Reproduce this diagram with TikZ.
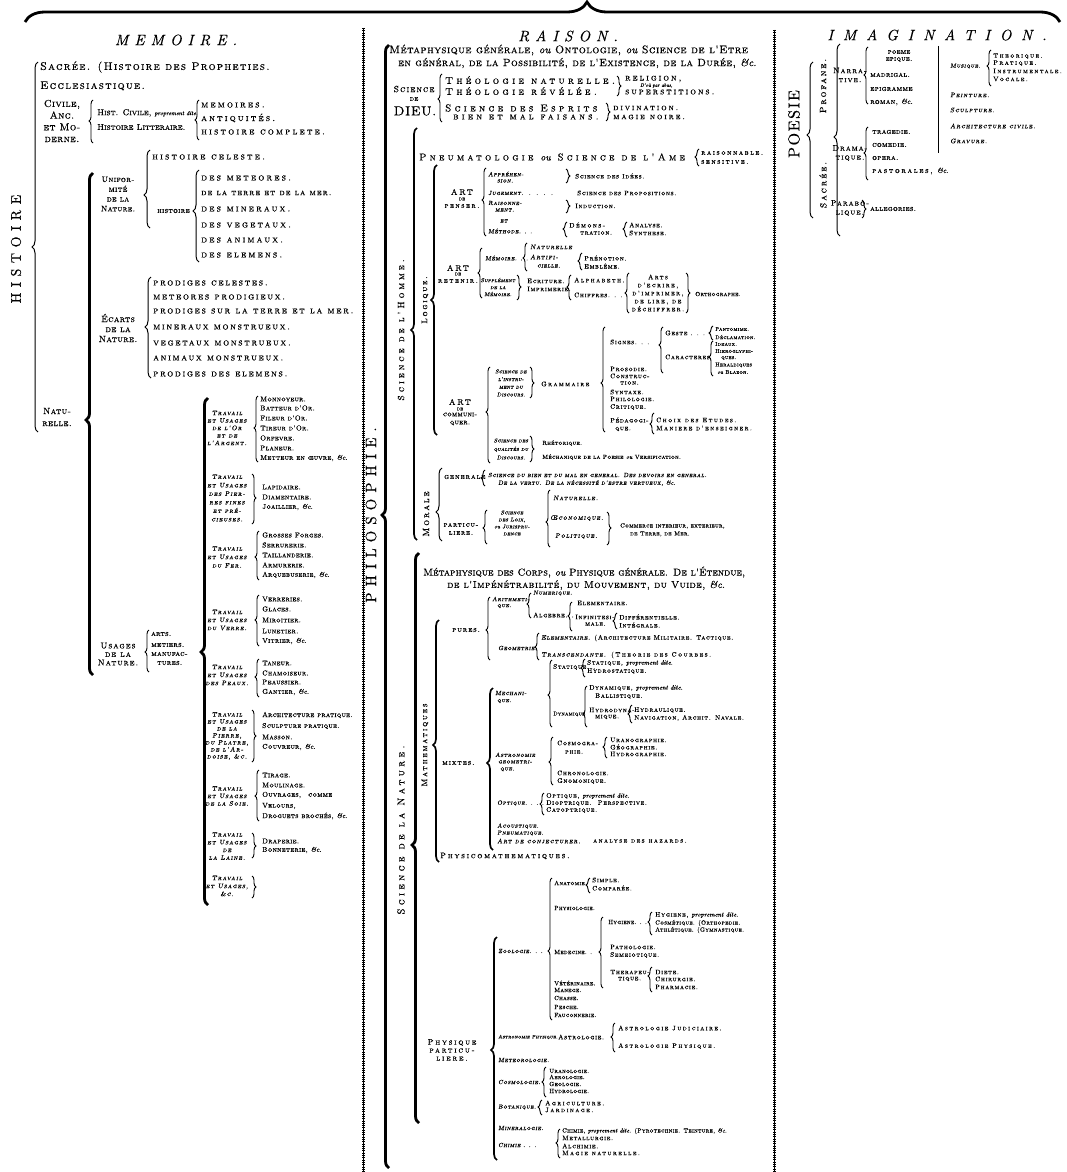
\documentclass[tikz,border=0pt]{standalone}
\usepackage{fontspec}
\usetikzlibrary{decorations.pathreplacing}
\newfontfamily\fCz{lmromancaps10-regular.otf}[FakeBold=0.5]
\newfontfamily\fCa{lmromancaps10-regular.otf}[LetterSpace=4,FakeBold=0.5]
\newfontfamily\fCf{lmromancaps10-regular.otf}[LetterSpace=10,FakeBold=0.5]
\newfontfamily\fCb{lmromancaps10-regular.otf}[LetterSpace=12,FakeBold=0.5]
\newfontfamily\fCd{lmromancaps10-regular.otf}[LetterSpace=17,FakeBold=0.5]
\newfontfamily\fCc{lmromancaps10-regular.otf}[LetterSpace=22,FakeBold=0.5]
\newfontfamily\fCe{lmromancaps10-regular.otf}[LetterSpace=33,FakeBold=0.5]
\newfontfamily\fOa{lmromancaps10-oblique.otf}[LetterSpace=4,FakeBold=0.5]
\newfontfamily\fOc{lmromancaps10-oblique.otf}[LetterSpace=8,FakeBold=0.5]
\newfontfamily\fOb{lmromancaps10-oblique.otf}[LetterSpace=14,FakeBold=0.5]
\newfontfamily\fRa{lmroman10-regular.otf}[LetterSpace=40,FakeBold=0.3]
\newfontfamily\fRb{lmroman10-regular.otf}[LetterSpace=10,FakeBold=0.3]
\newfontfamily\fIa{lmroman10-italic.otf}[LetterSpace=40,FakeBold=0.3]
\newfontfamily\fIb{lmroman10-italic.otf}[LetterSpace=65,FakeBold=0.3]
\newfontfamily\fIt{lmroman10-italic.otf}[FakeBold=0.6]
\newcommand\sz[2]{\fontsize{#1}{#2}\selectfont}
\newcommand\ou[1]{{\fIt #1}}
\newcommand\ous[1]{{\fIt\fontsize{6}{6}\selectfont #1}}
\newcommand\Ft{\fCa\sz{7}{7}}
\newcommand\Fl{\fOb\sz{6.5}{7.5}}
\newcommand\Fs{\fCf\sz{6.5}{6.5}}
\newcommand\Fss{\fCa\sz{6}{6}}
\newcommand\Fsw{\fCc\sz{6.5}{6.5}}
\newcommand\Fo{\fOc\sz{6}{6}}
\newcommand\Fow{\fOb\sz{6.5}{6.5}}
\newcommand\TX[5]{\node[anchor=west,inner sep=0pt,font={#2}] (#1) at (#3,#4) {#5};}
\newcommand\MX[5]{\node[anchor=center,inner sep=0pt,align=center,font={#2}] (#1) at (#3,#4) {#5};}
\newcommand\RX[5]{\node[rotate=90,inner sep=0pt,font={#2}] (#1) at (#3,#4) {#5};}
\newcommand\brL[5][]{\pgfmathsetmacro\asp{(#4-(#5))/(#4-(#3))}%
  \draw[brc,decoration={brace,amplitude=4pt,aspect=\asp},#1] (#2,#4) -- (#2,#3);}
\newcommand\brR[5][]{\pgfmathsetmacro\asp{(#5-(#3))/(#4-(#3))}%
  \draw[brc,decoration={brace,amplitude=4pt,aspect=\asp},#1] (#2,#3) -- (#2,#4);}
\begin{document}
\begin{tikzpicture}[x=1pt,y=-1pt,
  brc/.style={decorate,line width=0.9pt},
  thk/.style={line width=2.8pt,decoration={amplitude=7pt}},
  mdw/.style={line width=1.7pt,decoration={amplitude=6pt}},
  thn/.style={line width=1pt,decoration={amplitude=6pt}}]
\fill[white] (0,0) rectangle (1066,1172);
\useasboundingbox (0,0) rectangle (1066,1172);
% top brace
\draw[decorate,decoration={brace,amplitude=20pt,aspect=0.543},line width=2.8pt] (25,22) -- (1060,22);
% separators
\foreach \xx/\yy in {363/28,774/30}{
  \draw[line width=0.5pt] (\xx,\yy) -- (\xx,1172);
  \draw[line width=3pt,dash pattern=on 0.6pt off 1.7pt] (\xx,\yy) -- (\xx,1172);}
%================ MEMOIRE
\node[font=\fIa\sz{15}{15}] (tmem) at (176,40) {MEMOIRE.};
\RX{hist}{\fRa\sz{14}{14}}{16}{249}{HISTOIRE}
\brL[thn]{38}{62}{432}{247}
\TX{sacr}{\fCb\sz{11}{11}}{40}{67}{Sacrée. (Histoire des Propheties.}
\TX{eccl}{\fCb\sz{11}{11}}{40}{86}{Ecclesiastique.}
\MX{civ}{\fCa\sz{10}{11.7}}{62}{121}{Civile,\\Anc.\\et Mo-\\derne.}
\brL{93}{100}{143}{121}
\TX{hciv}{\fCz\sz{8.5}{8.5}}{97}{113}{Hist. Civile, \ous{proprement dite.}}
\TX{hlit}{\fCz\sz{8.5}{8.5}}{97}{127}{Histoire Litteraire.}
\brL{199}{100}{140}{120}
\TX{mems}{\fCc\sz{9.5}{9.5}}{201}{105}{memoires.}
\TX{anti}{\fCc\sz{9.5}{9.5}}{201}{118}{antiquités.}
\TX{hcom}{\fCc\sz{9.5}{9.5}}{201}{132}{histoire complete.}
\brL[thk]{93}{173}{675}{420}
\MX{natu}{\fCa\sz{9}{12}}{57}{417}{Natu-\\relle.}
\MX{unif}{\fCa\sz{8}{9.8}}{118}{194}{Unifor-\\mité\\de la\\Nature.}
\brL[thn]{150}{150}{228}{195}
\TX{hcel}{\fCc\sz{9.5}{9.5}}{152}{157}{histoire celeste.}
\TX{hnat}{\fCa\sz{7.5}{7.5}}{157}{211}{histoire}
\brL[thn]{199}{170}{262}{211}
\TX{dmet}{\fCc\sz{9.5}{9.5}}{201}{178}{des meteores.}
\TX{dter}{\fCb\sz{8.5}{8.5}}{201}{193}{de la terre et de la mer.}
\TX{dmin}{\fCc\sz{9.5}{9.5}}{201}{209}{des mineraux.}
\TX{dveg}{\fCc\sz{9.5}{9.5}}{201}{225}{des vegetaux.}
\TX{dani}{\fCc\sz{9.5}{9.5}}{201}{240}{des animaux.}
\TX{dele}{\fCc\sz{9.5}{9.5}}{201}{255}{des elemens.}
\MX{ecar}{\fCa\sz{9}{10}}{118}{328}{Écarts\\de la\\Nature.}
\brL[thn]{151}{277}{378}{327}
\TX{pcel}{\fCd\sz{9.5}{9.5}}{153}{283}{prodiges celestes.}
\TX{mpro}{\fCd\sz{9.5}{9.5}}{153}{297}{meteores prodigieux.}
\TX{pter}{\fCd\sz{9.5}{9.5}}{153}{311}{prodiges sur la terre et la mer.}
\TX{mmon}{\fCd\sz{9.5}{9.5}}{153}{327}{mineraux monstrueux.}
\TX{vmon}{\fCd\sz{9.5}{9.5}}{153}{343}{vegetaux monstrueux.}
\TX{amon}{\fCd\sz{9.5}{9.5}}{153}{358}{animaux monstrueux.}
\TX{pele}{\fCd\sz{9.5}{9.5}}{153}{374}{prodiges des elemens.}
\MX{usag}{\fCb\sz{8.5}{8.5}}{118}{654}{Usages\\de la\\Nature.}
\brL{149}{630}{672}{652}
\TX{arts}{\fCa\sz{7.5}{7.5}}{151}{634}{arts.}
\TX{meti}{\fCa\sz{7.5}{7.5}}{151}{645}{metiers.}
\TX{manu}{\fCa\sz{7.5}{7.5}}{151}{654}{manufac-}
\TX{manv}{\fCa\sz{7.5}{7.5}}{157}{663}{tures.}
\brL[thk]{208}{398}{905}{652}
% groups of Travail
\MX{gA}{\Fl}{227}{428}{Travail\\et Usages\\de l'Or\\et de\\l'Argent.}
\brL{258}{396}{462}{428}
\TX{gA1}{\Ft}{260}{399}{Monnoyeur.}
\TX{gA2}{\Ft}{260}{408}{Batteur d'Or.}
\TX{gA3}{\Ft}{260}{418}{Fileur d'Or.}
\TX{gA4}{\Ft}{260}{428}{Tireur d'Or.}
\TX{gA5}{\Ft}{260}{438}{Orfevre.}
\TX{gA6}{\Ft}{260}{448}{Planeur.}
\TX{gA7}{\Ft}{260}{458}{Metteur en œuvre, \ou{\&c.}}
\MX{gB}{\fOb\sz{6.5}{8.5}}{227}{498}{Travail\\et Usages\\des Pier-\\res fines\\et pré-\\cieuses.}
\brR{252}{474}{524}{498}
\TX{gB1}{\Ft}{262}{487}{Lapidaire.}
\TX{gB2}{\Ft}{262}{497}{Diamentaire.}
\TX{gB3}{\Ft}{262}{507}{Joaillier, \ou{\&c.}}
\MX{gC}{\fOb\sz{6.5}{8.5}}{227}{557}{Travail\\et Usages\\du Fer.}
\brL{259}{531}{580}{557}
\TX{gC1}{\Ft}{262}{535}{Grosses Forges.}
\TX{gC2}{\Ft}{262}{545}{Serrurerie.}
\TX{gC3}{\Ft}{262}{555}{Taillanderie.}
\TX{gC4}{\Ft}{262}{565}{Armurerie.}
\TX{gC5}{\Ft}{262}{575}{Arquebuserie, \ou{\&c.}}
\MX{gD}{\fOb\sz{6.5}{8}}{227}{620}{Travail\\et Usages\\du Verre.}
\brL{259}{595}{646}{620}
\TX{gD1}{\Ft}{262}{599}{Verreries.}
\TX{gD2}{\Ft}{262}{609}{Glaces.}
\TX{gD3}{\Ft}{262}{620}{Miroitier.}
\TX{gD4}{\Ft}{262}{631}{Lunetier.}
\TX{gD5}{\Ft}{262}{641}{Vitrier, \ou{\&c.}}
\MX{gE}{\fOb\sz{6.5}{8}}{227}{675}{Travail\\et Usages\\des Peaux.}
\brL{259}{659}{697}{677}
\TX{gE1}{\Ft}{262}{663}{Taneur.}
\TX{gE2}{\Ft}{262}{673}{Chamoiseur.}
\TX{gE3}{\Ft}{262}{682}{Peaussier.}
\TX{gE4}{\Ft}{262}{692}{Gantier, \ou{\&c.}}
\MX{gF}{\fOb\sz{6.5}{7}}{227}{736}{Travail\\et Usages\\de la\\Pierre,\\du Platre,\\de l'Ar-\\doise, \&c.}
\brR{252}{710}{762}{736}
\TX{gF1}{\Ft}{262}{715}{Architecture pratique.}
\TX{gF2}{\Ft}{262}{726}{Sculpture pratique.}
\TX{gF3}{\Ft}{262}{737}{Masson.}
\TX{gF4}{\Ft}{262}{747}{Couvreur, \ou{\&c.}}
\MX{gG}{\fOb\sz{6.5}{7.5}}{227}{796}{Travail\\et Usages\\de la Soie.}
\brL{259}{770}{821}{796}
\TX{gG1}{\Ft}{262}{775}{Tirage.}
\TX{gG2}{\Ft}{262}{785}{Moulinage.}
\TX{gG3}{\Ft}{262}{795}{Ouvrages,\quad comme}
\TX{gG4}{\Ft}{262}{806}{Velours,}
\TX{gG5}{\Ft}{262}{816}{Droguets brochés, \ou{\&c.}}
\MX{gH}{\fOb\sz{6.5}{7.7}}{227}{846}{Travail\\et Usages\\de\\la Laine.}
\brR{252}{833}{858}{846}
\TX{gH1}{\Ft}{262}{841}{Draperie.}
\TX{gH2}{\Ft}{262}{850}{Bonneterie, \ou{\&c.}}
\MX{gI}{\fOb\sz{6.5}{8}}{227}{886}{Travail\\et Usages,\\\&c.}
\brR{252}{876}{898}{887}
%================ RAISON
\node[font=\fIa\sz{15}{15}] (trai) at (568,36) {RAISON.};
\RX{philo}{\fRa\sz{15}{15}}{371}{515}{PHILOSOPHIE.}
\brL[thk]{389}{45}{1168}{515}
\TX{mg1}{\fCa\sz{11}{11}}{389}{50}{Métaphysique générale, \ou{ou} Ontologie, \ou{ou} Science de l'Etre}
\TX{mg2}{\fCa\sz{10.5}{10.5}}{398}{63}{en général, de la Possibilité, de l'Existence, de la Durée, \ou{\&c.}}
\MX{sd1}{\fCb\sz{9}{9}}{414}{89}{Science}
\MX{sd2}{\fCa\sz{7}{7}}{414}{99}{de}
\MX{sd3}{\fCa\sz{13}{13}}{415}{111}{DIEU.}
\brL{442}{74}{122}{99}
\TX{thn}{\fCe\sz{10}{10}}{445}{80}{Théologie naturelle.}
\TX{thr}{\fCe\sz{10}{10}}{445}{91}{Théologie révélée.}
\TX{esp1}{\fCe\sz{10}{10}}{445}{108}{Science des Esprits}
\TX{esp2}{\fCe\sz{9.5}{9.5}}{453}{117}{bien et mal faisans.}
\brR{617}{76}{96}{86}
\TX{reli}{\fCc\sz{9}{9}}{625}{79}{religion,}
\TX{dou}{\fIt\sz{5}{5}}{640}{85.5}{D'où par abus,}
\TX{supe}{\fCc\sz{9}{9}}{625}{92}{superstitions.}
\brR{606}{103}{121}{112}
\TX{divi}{\fCc\sz{8.5}{8.5}}{613}{108}{divination.}
\TX{magn}{\fCc\sz{8.5}{8.5}}{613}{117}{magie noire.}
\RX{shom}{\fCe\sz{9}{9}}{401}{330}{Science de l'Homme.}
\brL[mdw]{417}{128}{540}{330}
\TX{pneu}{\fCe\sz{9.8}{9.8}}{419}{157}{Pneumatologie \ou{ou} Science de l'Ame}
\brL{699}{149}{166}{157}
\TX{rais}{\fCc\sz{7}{7}}{701}{153}{raisonnable.}
\TX{sens}{\fCc\sz{7}{7}}{701}{162}{sensitive.}
\RX{logi}{\fCc\sz{8}{8}}{425}{300}{Logique.}
\brL[mdw]{437}{165}{435}{300}
% art de penser
\MX{ap1}{\fCc\sz{8}{8}}{462}{192}{ART}
\MX{ap2}{\fCa\sz{5}{5}}{462}{199}{de}
\MX{ap3}{\fCc\sz{7}{7}}{462}{206}{penser.}
\brL{486}{168}{236}{200}
\TX{appa}{\Fo}{488}{174}{Appréhen-}
\TX{appb}{\Fo}{497}{181}{sion.}
\TX{juge}{\Fo}{488}{193}{Jugement.\ \ .\ \ .\ \ .\ \ .}
\TX{raia}{\Fo}{488}{203}{Raisonne-}
\TX{raib}{\Fo}{495}{210}{ment.}
\TX{etm}{\Fo}{500}{221}{et}
\TX{meth}{\Fo}{488}{231}{Méthode. . .}
\brR{566}{169}{183}{176}
\TX{sidee}{\Fs}{575}{176}{Science des Idées.}
\TX{sprop}{\Fs}{577}{193}{Science des Propositions.}
\brR{566}{200}{213}{206}
\TX{indu}{\Fs}{575}{206}{Induction.}
\brL{567}{222}{237}{229}
\TX{demo}{\Fsw}{569}{225}{Démons-}
\TX{demp}{\Fs}{580}{233}{tration.}
\brL{627}{222}{237}{229}
\TX{anal}{\Fs}{629}{225}{Analyse.}
\TX{synt}{\Fs}{629}{233}{Synthese.}
% art de retenir
\MX{ar1}{\fCc\sz{8}{8}}{458}{268}{ART}
\MX{ar2}{\fCa\sz{5}{5}}{458}{274}{de}
\MX{ar3}{\fCc\sz{7}{7}}{458}{281}{retenir.}
\brL{482}{248}{298}{273}
\TX{memo}{\Fo}{485}{258}{Mémoire. . .}
\brL{527}{243}{271}{258}
\TX{natl}{\Fow}{530}{247}{Naturelle}
\TX{arta}{\Fow}{530}{257}{Artifi-}
\TX{artb}{\Fo}{537}{266}{cielle.}
\brL{582}{253}{270}{261}
\TX{pren}{\Fs}{584}{258}{Prénotion.}
\TX{embl}{\Fs}{584}{266}{Emblême.}
\MX{supl}{\fOa\sz{5.5}{7}}{498}{287}{Supplément\\de la\\Mémoire.}
\brR{517}{275}{300}{287}
\TX{ecri}{\Fs}{527}{281}{Ecriture.}
\TX{impr}{\Fs}{527}{289}{Imprimerie.}
\brL{571}{275}{300}{287}
\TX{alph}{\Fsw}{574}{280}{Alphabeth.}
\TX{chif}{\Fs}{574}{295}{Chiffres. . .}
\brL{629}{273}{313}{293}
\MX{arte}{\fCc\sz{6.5}{8}}{658}{293}{Arts\\d'ecrire,\\d'imprimer,\\de lire, de\\déchiffrer.}
\brR{686}{273}{313}{293}
\TX{orth}{\Fss}{695}{294}{Orthographe.}
% art de communiquer
\MX{ac1}{\fCc\sz{8}{8}}{460}{402}{ART}
\MX{ac2}{\fCa\sz{5}{5}}{460}{409}{de}
\MX{ac3}{\fCa\sz{7}{8}}{460}{419}{communi-\\quer.}
\brL{490}{367}{463}{412}
\MX{sins}{\fOa\sz{5.5}{7.7}}{511}{383}{Science de\\l'instru-\\ment du\\Discours.}
\brR{530}{367}{398}{383}
\TX{gram}{\fCc\sz{6.5}{6.5}}{541}{384}{Grammaire}
\brL{605}{327}{432}{383}
\TX{sign}{\Fs}{610}{342}{Signes. . .}
\brL{663}{327}{373}{345}
\TX{gest}{\Fs}{665}{333}{Geste . . . .}
\brL{713}{326}{340}{333}
\TX{pant}{\fCa\sz{5.5}{5.5}}{715}{329}{Pantomime.}
\TX{decl}{\fCa\sz{5.5}{5.5}}{715}{337}{Déclamation.}
\TX{cara}{\Fs}{665}{357}{Caracteres}
\brL{713}{341}{376}{357}
\TX{idea}{\fCa\sz{5.5}{5.5}}{715}{344}{Ideaux.}
\TX{hiea}{\fCa\sz{5.5}{5.5}}{715}{351}{Hieroglyphi-}
\TX{hieb}{\fCa\sz{5.5}{5.5}}{721}{358}{ques.}
\TX{hera}{\fCa\sz{5.5}{5.5}}{715}{365}{Heraldiques}
\TX{blaz}{\fCa\sz{5.5}{5.5}}{717}{372}{\ou{ou} Blazon.}
\TX{pros}{\Fs}{610}{369}{Prosodie.}
\TX{cona}{\Fs}{610}{376}{Construc-}
\TX{conb}{\Fs}{620}{383}{tion.}
\TX{synx}{\Fs}{610}{392}{Syntaxe.}
\TX{phil}{\Fs}{610}{399}{Philologie.}
\TX{crit}{\Fs}{610}{407}{Critique.}
\TX{peda}{\Fs}{610}{420}{Pédagogi-}
\TX{pedb}{\Fs}{615}{429}{que.}
\brL{654}{413}{434}{424}
\TX{choi}{\Fsw}{656}{420}{Choix des Etudes.}
\TX{mani}{\Fsw}{656}{428}{Maniere d'enseigner.}
\MX{squa}{\fOa\sz{5.5}{8.5}}{511}{449}{Science des\\qualités du\\Discours.}
\brR{530}{436}{462}{449}
\TX{rhet}{\Fss}{542}{443}{Rhétorique.}
\TX{mecp}{\Fss}{542}{457}{Méchanique de la Poesie \ou{ou} Versification.}
% morale
\RX{mora}{\fCc\sz{9}{9}}{426}{514}{Morale}
\brL[thn]{442}{468}{541}{512}
\TX{gene}{\fCb\sz{7.5}{7.5}}{444}{477}{generale}
\brL{485}{470}{486}{478}
\TX{sbi1}{\Fo}{488}{475}{Science du bien et du mal en general. Des devoirs en general.}
\TX{sbi2}{\Fo}{498}{483}{De la vertu. De la nécessité d'estre vertueux, \ou{\&c.}}
\MX{part}{\fCb\sz{7}{8}}{461}{529}{particu-\\liere.}
\brL{487}{510}{544}{528}
\MX{sloi}{\fOa\sz{5.5}{7}}{512}{523}{Science\\des Loix,\\\ou{ou} Jurispru-\\dence}
\brL{550}{490}{547}{522}
\TX{natx}{\Fow}{553}{498}{Naturelle.}
\TX{oeco}{\Fow}{550}{518}{Œconomique.}
\TX{poli}{\Fow}{555}{536}{Politique.}
\brR{607}{512}{545}{528}
\TX{com1}{\Fss}{620}{526}{Commerce interieur, exterieur,}
\TX{com2}{\Fss}{630}{534}{de Terre, de Mer.}
% science de la nature
\TX{mc1}{\fCz\sz{10}{10}}{423}{572}{Métaphysique des Corps, \ou{ou} Physique générale. De l'Étendue,}
\TX{mc2}{\fCa\sz{10}{10}}{447}{585}{de l'Impénétrabilité, du Mouvement, du Vuide, \ou{\&c.}}
\RX{snat}{\fCe\sz{10}{10}}{401}{830}{Science de la Nature.}
\brL[thk]{419}{553}{1123}{845}
\RX{math}{\fCc\sz{8}{8}}{425}{745}{Mathematiques}
\brL[mdw]{439}{620}{862}{745}
\TX{pure}{\fCb\sz{7.5}{7.5}}{452}{630}{pures.}
\brL{490}{597}{660}{630}
\TX{arta2}{\Fo}{492}{599}{Arithmeti-}
\TX{artb2}{\Fo}{497}{606}{que.}
\brL{531}{593}{618}{604}
\TX{nume}{\Fo}{533}{593}{Numerique.}
\TX{alge}{\Fs}{533}{615}{Algebre. . .}
\brL{572}{602}{631}{616}
\TX{elea}{\Fs}{577}{603}{Elementaire.}
\TX{infa}{\Fs}{575}{617}{Infinitesi-}
\TX{infb}{\Fs}{585}{624}{male.}
\brL{617}{613}{629}{621}
\TX{diff}{\Fs}{619}{617}{Différentielle.}
\TX{inte}{\Fs}{619}{625}{Intégrale.}
\TX{geom}{\Fo}{498}{648}{Geometrie.}
\brL{539}{633}{660}{647}
\TX{eleb}{\Fs}{541}{638}{{\fOc Elementaire.} (Architecture Militaire. Tactique.}
\TX{tran}{\Fsw}{541}{655}{{\fOb Transcendante.} (Theorie des Courbes.}
\TX{meca}{\Fo}{495}{693}{Mechani-}
\TX{mecb}{\Fo}{497}{701}{que.}
\brL{552}{660}{727}{695}
\TX{stat}{\Fs}{553}{667}{Statique. .}
\brL{585}{659}{677}{668}
\TX{sta1}{\Fs}{587}{663}{Statique, \ou{proprement dite.}}
\TX{hyds}{\Fs}{587}{671}{Hydrostatique.}
\TX{dyna}{\fCa\sz{5.5}{5.5}}{553}{714}{Dynamique}
\brL{587}{686}{727}{714}
\TX{dyn1}{\Fs}{589}{688}{Dynamique, \ou{proprement dite.}}
\TX{ball}{\Fs}{595}{696}{Ballistique.}
\TX{hyda}{\Fs}{589}{710}{Hydrodyna-}
\TX{hydb}{\Fs}{595}{717}{mique.}
\brL{632}{705}{723}{714}
\TX{hydr}{\Fs}{634}{710}{Hydraulique.}
\TX{navi}{\Fs}{634}{718}{Navigation, Archit. Navale.}
\TX{mixt}{\fCb\sz{7.5}{7.5}}{442}{763}{mixtes.}
\brL[mdw]{493}{688}{850}{763}
\node[anchor=west,inner sep=0pt,align=left,font=\fOc\sz{6}{7}] (astg) at (495,762) {Astronomie\\[-0.5pt]\hspace*{3pt}geometri-\\\hspace*{5pt}que.};
\brL{553}{737}{785}{762}
\TX{cosa}{\Fs}{557}{743}{Cosmogra-}
\TX{cosb}{\Fs}{565}{752}{phie.}
\brL{607}{737}{758}{747}
\TX{urag}{\Fs}{610}{740}{Uranographie.}
\TX{geog}{\Fs}{610}{747}{Géographie.}
\TX{hydg}{\Fs}{610}{754}{Hydrographie.}
\TX{chro}{\Fs}{557}{773}{Chronologie.}
\TX{gnom}{\Fs}{557}{781}{Gnomonique.}
\TX{opti}{\Fo}{497}{803}{Optique. . . .}
\brL{544}{793}{815}{804}
\TX{opt1}{\Fs}{546}{796}{Optique, \ou{proprement dite.}}
\TX{diop}{\Fs}{546}{803}{Dioptrique.\quad Perspective.}
\TX{cato}{\Fs}{546}{810}{Catoptrique.}
\TX{acou}{\Fo}{497}{826}{Acoustique.}
\TX{pnem}{\Fo}{497}{833}{Pneumatique.}
\TX{conj}{\Fow}{497}{841}{Art de conjecturer.}
\TX{haza}{\Fsw}{593}{841}{analyse des hazards.}
\TX{phym}{\fCc\sz{8}{8}}{440}{856}{Physicomathematiques.}
% physique particuliere
\MX{phpa}{\fCc\sz{8}{8}}{452}{1050}{Physique\\particu-\\liere.}
\brL[mdw]{497}{937}{1160}{1050}
\TX{zool}{\Fo}{498}{951}{Zoologie. . .}
\brL{552}{878}{1020}{951}
\TX{anat}{\Fss}{554}{883}{Anatomie}
\brL{590}{878}{893}{885}
\TX{simp}{\Fs}{592}{880}{Simple.}
\TX{comp}{\Fs}{592}{888}{Comparée.}
\TX{phyo}{\Fss}{554}{908}{Physiologie.}
\TX{mede}{\Fss}{554}{952}{Medecine. .}
\brL{603}{917}{988}{952}
\TX{hyga}{\Fss}{608}{922}{Hygiene. . .}
\brL{652}{912}{935}{922}
\TX{hyg1}{\Fs}{655}{915}{Hygiene, \ou{proprement dite.}}
\TX{cosm}{\Fss}{655}{923}{Cosmétique. (Orthopedie.}
\TX{athl}{\Fss}{655}{930}{Athlétique. (Gymnastique.}
\TX{path}{\Fs}{610}{947}{Pathologie.}
\TX{seme}{\Fs}{610}{955}{Semeiotique.}
\TX{thea}{\Fs}{610}{972}{Therapeu-}
\TX{theb}{\Fs}{618}{979}{tique.}
\brL{652}{967}{992}{976}
\TX{diet}{\Fs}{655}{972}{Diete.}
\TX{chir}{\Fs}{655}{979}{Chirurgie.}
\TX{phar}{\Fs}{655}{987}{Pharmacie.}
\TX{vete}{\Fss}{554}{983}{Vétérinaire.}
\TX{mane}{\Fss}{554}{990}{Manege.}
\TX{chas}{\Fss}{554}{998}{Chasse.}
\TX{pesc}{\Fss}{554}{1007}{Pesche.}
\TX{fauc}{\Fss}{554}{1015}{Fauconnerie.}
\TX{astp}{\fOa\sz{5}{5}}{498}{1037}{Astronomie Physique.}
\TX{astr}{\Fs}{558}{1037}{Astrologie.}
\brL{615}{1023}{1052}{1037}
\TX{astj}{\Fsw}{618}{1028}{Astrologie Judiciaire.}
\TX{asth}{\Fsw}{618}{1046}{Astrologie Physique.}
\TX{mete}{\Fo}{498}{1060}{Meteorologie.}
\TX{cosl}{\Fo}{498}{1082}{Cosmologie.}
\brL{546}{1067}{1097}{1082}
\TX{uran}{\Fss}{549}{1071}{Uranologie.}
\TX{aero}{\Fss}{549}{1077}{Aerologie.}
\TX{geol}{\Fss}{549}{1084}{Geologie.}
\TX{hydl}{\Fss}{549}{1091}{Hydrologie.}
\TX{bota}{\Fo}{498}{1107}{Botanique.}
\brL{542}{1100}{1115}{1107}
\TX{agri}{\Fsw}{545}{1103}{Agriculture.}
\TX{jard}{\Fsw}{545}{1110}{Jardinage.}
\TX{mine}{\Fo}{498}{1128}{Mineralogie.}
\TX{chim}{\Fo}{498}{1145}{Chimie . . .}
\brL{560}{1129}{1158}{1143}
\TX{chi1}{\Fss}{562}{1131}{Chimie, \ou{proprement dite.} (Pyrotechnie. Teinture, \ou{\&c.}}
\TX{meta}{\Fs}{562}{1138}{Metallurgie.}
\TX{alch}{\Fs}{562}{1146}{Alchimie.}
\TX{magn2}{\Fsw}{562}{1153}{Magie naturelle.}
%================ IMAGINATION
\node[font=\fIb\sz{15}{15}] (timg) at (937,35) {IMAGINATION.};
\RX{poes}{\fRb\sz{16}{16}}{794}{124}{POESIE}
\brL[thn]{813}{62}{218}{135}
\RX{prof}{\fCc\sz{9}{9}}{823}{86}{Profane.}
\RX{sacx}{\fCc\sz{9}{9}}{823}{185}{Sacrée.}
\brL[thn]{840}{44}{236}{137}
\MX{narr}{\fCb\sz{8}{9}}{850}{75}{Narra-\\tive.}
\brL{868}{47}{104}{75}
\MX{poem}{\fCa\sz{7}{7}}{899}{56}{poeme\\epique.}
\TX{madr}{\fCa\sz{7.5}{7.5}}{870}{75}{madrigal.}
\TX{epig}{\fCa\sz{7.5}{7.5}}{870}{89}{epigramme}
\TX{roma}{\fCa\sz{7.5}{7.5}}{870}{102}{roman, \ou{\&c.}}
\draw[line width=0.9pt] (938,46) -- (938,153);
\TX{musi}{\Fo}{950}{66}{Musique.}
\brL{991}{50}{86}{66}
\TX{mthe}{\Fsw}{993}{56}{Theorique.}
\TX{mpra}{\Fsw}{993}{63}{Pratique.}
\TX{mins}{\Fsw}{993}{71}{Instrumentale.}
\TX{mvoc}{\Fsw}{993}{79}{Vocale.}
\TX{pein}{\Fow}{950}{95}{Peinture.}
\TX{sclp}{\Fow}{950}{110}{Sculpture.}
\TX{arch}{\Fow}{950}{126}{Architecture civile.}
\TX{grav}{\Fow}{950}{141}{Gravure.}
\MX{dram}{\fCb\sz{8}{9}}{850}{153}{Drama-\\tique.}
\brL{868}{127}{180}{153}
\TX{trag}{\fCa\sz{7.5}{7.5}}{872}{132}{tragedie.}
\TX{come}{\fCa\sz{7.5}{7.5}}{872}{145}{comedie.}
\TX{oper}{\fCa\sz{7.5}{7.5}}{872}{158}{opera.}
\TX{past}{\fCc\sz{7.5}{7.5}}{872}{171}{pastorales, \ou{\&c.}}
\MX{para}{\fCb\sz{8}{9}}{850}{208}{Parabo-\\lique.}
\brR{862}{200}{218}{209}
\TX{alle}{\fCa\sz{7.5}{7.5}}{870}{209}{allegories.}
\end{tikzpicture}
\end{document}
